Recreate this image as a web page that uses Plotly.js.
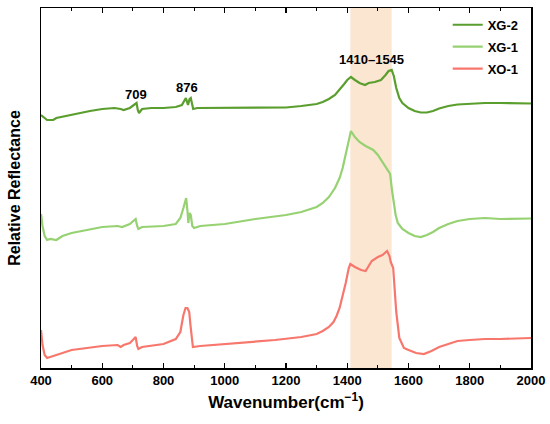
<!DOCTYPE html>
<html>
<head>
<meta charset="utf-8">
<script src="https://cdn.plot.ly/plotly-3.0.1.min.js"></script>
<style>html,body{margin:0;padding:0;background:#fff;}#chart{width:550px;height:424px;}</style>
</head>
<body>
<div id="chart"></div>
<script>
// Wavenumbers (cm^-1) and relative reflectance (arbitrary, offset units)
const wnXG2 = [400,410,420,430,440,450,480,520,560,600,640,660,670,690,705,712,716,720,730,760,800,840,860,868,873,880,885,889,893,897,910,1000,1100,1164,1200,1250,1280,1300,1320,1340,1360,1375,1390,1400,1412,1425,1440,1458,1470,1490,1510,1525,1535,1545,1552,1560,1570,1580,1600,1620,1640,1660,1680,1700,1730,1760,1800,1850,1900,1950,2000];
const valXG2 = [253,250,248,248,248,250,252,255,257,259,260,259,258,260,263,265,258,255,259,260,260,261,263,268,270,263,269,270,264,259,260,260,260,260,260.5,262,263,264,266,269,273,278,284,288,291,288,285,283,285,286,288,293,297,298,292,280,270,265,260,257,255.5,255.5,257,259.5,262,263.5,264.5,265,265,264.5,264.5];

const wnXG1 = [400,405,412,420,430,450,470,500,550,600,650,665,690,700,709,714,718,730,800,840,855,865,871,874,878,881,885,889,894,900,920,1000,1100,1150,1200,1250,1280,1300,1320,1340,1360,1375,1385,1395,1405,1412,1425,1440,1460,1485,1500,1517,1530,1540,1546,1552,1558,1565,1580,1600,1620,1640,1660,1680,1700,1730,1760,1800,1850,1900,1950,2000];
const valXG1 = [154,142,132,128,129,128,132,135,138,141,142,141,144,147,149,142,139,141,142,144,150,160,169,170,158,145,155,153,142,140,142,144,149,151,153,156,159,161,165,171,180,190,200,213,228,237,231,226,222,218,213,205,200,194,178,163,153,145,139,135,132,131,133,136,140,144,147,149,150,149,149.5,149.5];

const wnXO1 = [400,405,412,420,430,450,480,500,550,600,650,660,670,690,700,709,714,718,730,800,840,855,865,872,878,884,888,892,896,920,1000,1100,1164,1250,1300,1320,1340,1355,1365,1375,1385,1395,1405,1410,1425,1445,1460,1470,1480,1500,1515,1530,1538,1542,1550,1555,1560,1570,1585,1600,1625,1650,1675,1700,1730,1760,1800,1850,1900,1950,2000];
const valXO1 = [38,23,13,10,11,13,16,18,20,22,23,21,23,25,28,31,22,19,21,24,29,36,53,60,60,56,43,28,21,22,24,26,28,31,34,37,41,46,52,60,72,85,100,104,101,98,97,102,107,111,113,117,112,106,100,78,56,30,20,18,15,14,17,21,24,27,28,29,29,29.5,30];

const seriesNames = ['XG-2','XG-1','XO-1'];
const seriesColors = ['#5a9e2e','#96d172','#f7776d'];
const tickVals = [400,600,800,1000,1200,1400,1600,1800,2000];
const peakLabels = ['709','876','1410–1545'];
const peakX = [709,876,1478];
const peakY = [274,281,309];
const bandRange = [1410,1545];

const F = 'Liberation Sans, Arial, sans-serif';
const traces = [
  {x: wnXG2, y: valXG2},
  {x: wnXG1, y: valXG1},
  {x: wnXO1, y: valXO1}
].map((t,i)=>({x:t.x,y:t.y,type:'scatter',mode:'lines',name:seriesNames[i],legendgroup:'g'+i,
  line:{color:seriesColors[i],width:2.2}}));

const layout = {
  width:550,height:424,
  margin:{l:41,r:19,t:8,b:56},
  paper_bgcolor:'#fff',plot_bgcolor:'#fff',
  font:{family:F,color:'#000'},
  showlegend:true,
  legend:{x:0.83,y:0.995,xanchor:'left',yanchor:'top',bgcolor:'rgba(0,0,0,0)',
    traceorder:'grouped',tracegroupgap:2,
    font:{family:F,size:13,weight:'bold',color:'#000'}},
  xaxis:{range:[400,2000],tickvals:tickVals,ticks:'inside',ticklen:5,tickwidth:1.2,tickcolor:'#000',
    showline:true,linecolor:'#000',linewidth:1.5,mirror:'ticks',showgrid:false,zeroline:false,
    minor:{dtick:100,tick0:400,ticks:'inside',ticklen:3,tickcolor:'#000',tickwidth:1.2,showgrid:false},
    tickfont:{family:F,size:13,weight:'bold'},
    title:{text:'Wavenumber(cm<sup>−1</sup>)',font:{family:F,size:17,weight:'bold'},standoff:9}},
  yaxis:{range:[0,360],showticklabels:false,ticks:'',showline:true,linecolor:'#000',linewidth:1.5,
    mirror:true,showgrid:false,zeroline:false,
    title:{text:'Relative Reflectance',font:{family:F,size:16,weight:'bold'},standoff:15}},
  shapes:[{type:'rect',xref:'x',yref:'paper',x0:bandRange[0],x1:bandRange[1],y0:0,y1:1,
    fillcolor:'#fbe6d2',line:{width:0},layer:'below'}],
  annotations: peakLabels.map((t,i)=>({x:peakX[i],y:peakY[i],text:t,showarrow:false,
    xanchor:'center',yanchor:'middle',font:{family:F,size:13,weight:'bold',color:'#000'}}))
};
Plotly.newPlot('chart',traces,layout,{displayModeBar:false,staticPlot:true});
</script>
</body>
</html>
